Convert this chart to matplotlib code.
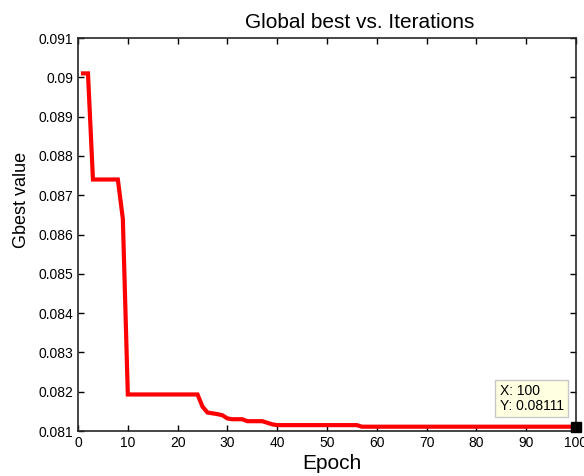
import numpy as np
import matplotlib.pyplot as plt

plt.rcParams['font.family'] = ['Liberation Sans', 'DejaVu Sans']

# breakpoints of the gbest curve (epoch, value)
epochs = [1, 2, 3, 8, 9, 10, 24, 25, 26, 28, 29, 30, 31, 33, 34, 37, 38, 39, 40, 56, 57, 100]
gbest = [0.09010, 0.09010, 0.08740, 0.08740, 0.08640, 0.08193, 0.08193, 0.08162,
         0.08147, 0.08143, 0.08140, 0.08132, 0.08130, 0.08130, 0.08125, 0.08125,
         0.08121, 0.08117, 0.08115, 0.08115, 0.08111, 0.08111]

yticks = [0.081, 0.082, 0.083, 0.084, 0.085, 0.086, 0.087, 0.088, 0.089, 0.09, 0.091]
ytick_labels = ['0.081', '0.082', '0.083', '0.084', '0.085', '0.086',
                '0.087', '0.088', '0.089', '0.09', '0.091']
xticks = [0, 10, 20, 30, 40, 50, 60, 70, 80, 90, 100]

fig = plt.figure(figsize=(5.84, 4.76), dpi=100)
ax = fig.add_axes([0.1336, 0.0945, 0.8527, 0.8256])

ax.plot(epochs, gbest, color='red', lw=3, solid_joinstyle='miter')

ax.set_xlim(0, 100)
ax.set_ylim(0.081, 0.091)
ax.set_xticks(xticks)
ax.set_yticks(yticks)
ax.set_yticklabels(ytick_labels)
ax.tick_params(direction='in', top=True, right=True, labelsize=10, length=4, width=1)
for s in ax.spines.values():
    s.set_linewidth(1.2)
    s.set_color('#262626')

# titles / labels (matlab-ish placement)
ax.set_title('Global best vs. Iterations', fontsize=15, pad=7, x=0.566)
ax.set_xlabel('Epoch', fontsize=15, labelpad=3)
ax.set_ylabel('Gbest value', fontsize=13, labelpad=6)
ax.yaxis.label.set_y(0.588)
ax.xaxis.label.set_x(0.51)

# data tip at the last point
ax.plot(epochs[-1], gbest[-1], marker='s', color='black', ms=7, clip_on=False, zorder=5)
ax.annotate('X: 100\nY: 0.08111', xy=(epochs[-1], gbest[-1]), xytext=(-55, 10),
            textcoords='offset points', ha='left', va='bottom', fontsize=10,
            linespacing=1.05,
            bbox=dict(boxstyle='square,pad=0.3', fc='#ffffe1', ec='#c8c8c8', lw=1))

fig.savefig('out.png', dpi=100)
